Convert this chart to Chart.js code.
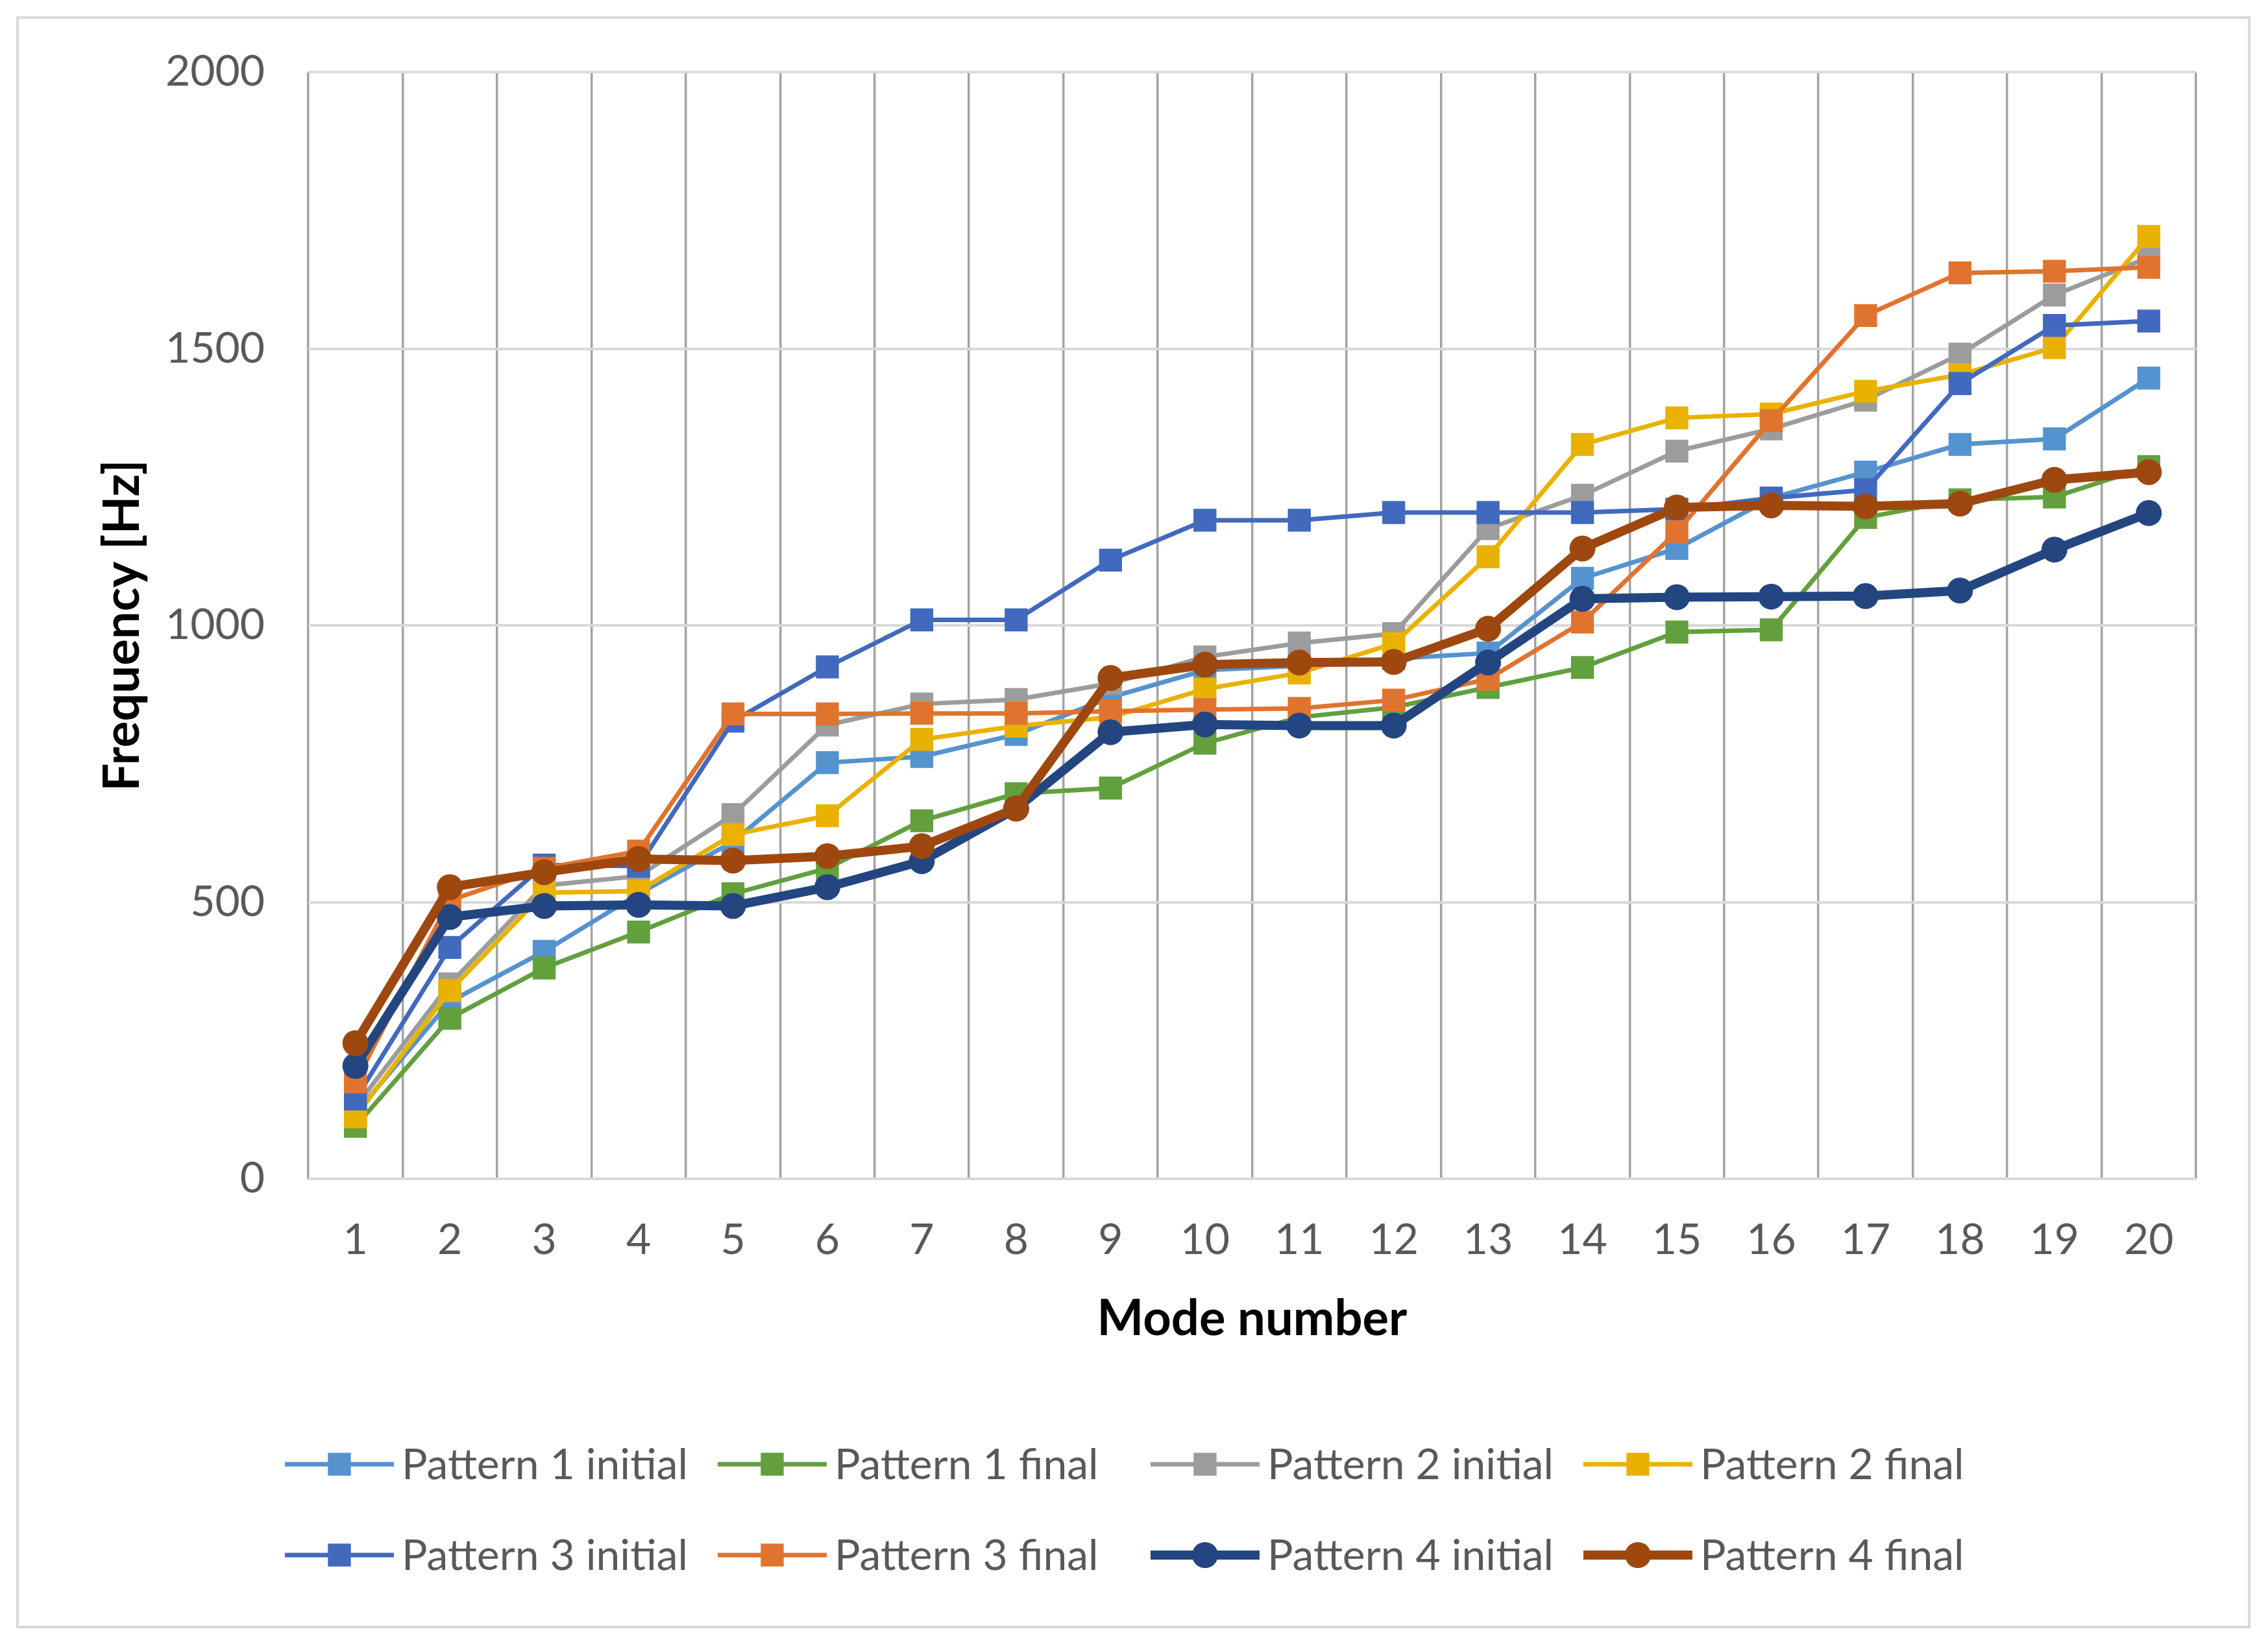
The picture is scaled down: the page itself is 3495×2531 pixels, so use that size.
<!DOCTYPE html>
<html>
<head>
<meta charset="utf-8">
<script src="https://cdn.jsdelivr.net/npm/chart.js@4.4.1/dist/chart.umd.min.js"></script>
<style>
html,body{margin:0;padding:0;background:#fff;}
#wrap{position:relative;width:3495px;height:2531px;}
canvas{display:block;}
</style>
</head>
<body>
<div id="wrap"><canvas id="c" width="3495" height="2531" style="width:3495px;height:2531px"></canvas></div>
<script>
const modes = ['1','2','3','4','5','6','7','8','9','10','11','12','13','14','15','16','17','18','19','20'];
const yTicks = [0, 500, 1000, 1500, 2000];
const seriesNames = ['Pattern 1 initial','Pattern 1 final','Pattern 2 initial','Pattern 2 final','Pattern 3 initial','Pattern 3 final','Pattern 4 initial','Pattern 4 final'];

const pattern1Initial = [118, 320, 411, 515, 609, 752, 763, 803, 870, 919, 927, 940, 950, 1085, 1139, 1230, 1277, 1327, 1337, 1447];
const pattern1Final   = [95, 290, 381, 446, 515, 561, 647, 696, 706, 787, 834, 852, 888, 924, 988, 992, 1195, 1227, 1232, 1287];
const pattern2Initial = [130, 352, 530, 547, 658, 820, 858, 866, 895, 943, 968, 985, 1175, 1235, 1315, 1355, 1407, 1490, 1597, 1665];
const pattern2Final   = [112, 340, 517, 520, 622, 656, 794, 818, 834, 885, 914, 967, 1124, 1327, 1375, 1382, 1423, 1453, 1502, 1703];
const pattern3Initial = [144, 418, 567, 565, 827, 925, 1010, 1010, 1118, 1190, 1190, 1204, 1204, 1204, 1210, 1230, 1245, 1437, 1542, 1550];
const pattern3Final   = [175, 503, 561, 592, 840, 840, 841, 841, 845, 848, 850, 865, 903, 1006, 1169, 1370, 1560, 1637, 1640, 1647];
const pattern4Initial = [204, 473, 493, 495, 493, 527, 574, 669, 807, 821, 819, 819, 933, 1048, 1051, 1052, 1053, 1063, 1137, 1203];
const pattern4Final   = [245, 527, 554, 578, 575, 583, 601, 669, 905, 929, 933, 934, 994, 1139, 1213, 1217, 1215, 1220, 1263, 1277];

const allSeries = [pattern1Initial, pattern1Final, pattern2Initial, pattern2Final, pattern3Initial, pattern3Final, pattern4Initial, pattern4Final];
const colors = ['#5593CF','#62A03E','#9C9C9C','#E9B200','#4169BD','#E0742F','#234681','#9E4810'];
const styles = ['rect','rect','rect','rect','rect','rect','circle','circle'];

const datasets = allSeries.map((d, i) => {
  const thick = i >= 6;
  return {
    label: seriesNames[i],
    data: d,
    borderColor: colors[i],
    backgroundColor: colors[i],
    borderWidth: thick ? 14 : 7,
    pointStyle: styles[i],
    pointRadius: thick ? 20 : 25,
    pointBorderWidth: 0,
    pointBackgroundColor: colors[i],
    pointBorderColor: colors[i],
    tension: 0,
    order: 8 - i
  };
});

const TICK_FONT = 'Lato';
const legendPlugin = {
  id: 'excelLegend',
  afterDraw(chart) {
    const ctx = chart.ctx;
    const cols = [439, 1106, 1773, 2440];
    const rows = [2257, 2397];
    ctx.save();
    chart.data.datasets.forEach((ds, i) => {
      const x0 = cols[i % 4];
      const y = rows[Math.floor(i / 4)];
      const len = 168;
      ctx.strokeStyle = ds.borderColor;
      ctx.lineWidth = ds.borderWidth;
      ctx.beginPath();
      ctx.moveTo(x0, y);
      ctx.lineTo(x0 + len, y);
      ctx.stroke();
      ctx.fillStyle = ds.backgroundColor;
      const cx = x0 + len / 2;
      if (ds.pointStyle === 'circle') {
        ctx.beginPath();
        ctx.arc(cx, y, ds.pointRadius, 0, Math.PI * 2);
        ctx.fill();
      } else {
        const s = ds.pointRadius * Math.SQRT1_2;
        ctx.fillRect(cx - s, y - s, 2 * s, 2 * s);
      }
      ctx.fillStyle = '#595959';
      ctx.font = '66px ' + TICK_FONT;
      ctx.textAlign = 'left';
      ctx.textBaseline = 'middle';
      ctx.fillText(ds.label, x0 + 180, y + 2);
    });
    ctx.restore();
  }
};

const framePlugin = {
  id: 'frame',
  beforeDraw(chart) {
    const ctx = chart.ctx;
    ctx.save();
    ctx.fillStyle = '#ffffff';
    ctx.fillRect(0, 0, chart.width, chart.height);
    ctx.strokeStyle = '#D9D9D9';
    ctx.lineWidth = 4;
    ctx.strokeRect(27, 27, 3439, 2481);
    ctx.restore();
  }
};

new Chart(document.getElementById('c'), {
  type: 'line',
  data: { labels: modes, datasets: datasets },
  options: {
    responsive: false,
    devicePixelRatio: 1,
    animation: false,
    layout: { padding: { left: 100, top: 111, right: 111, bottom: 414 } },
    plugins: {
      legend: { display: false },
      tooltip: { enabled: false }
    },
    scales: {
      x: {
        type: 'category',
        offset: true,
        afterFit(scale) { scale.height = 300; },
        grid: { display: true, offset: true, color: '#A3A3A3', lineWidth: 3.5, drawTicks: false },
        border: { display: false },
        ticks: { color: '#595959', font: { family: TICK_FONT, size: 66 }, padding: 55, maxRotation: 0, autoSkip: false },
        title: { display: true, text: 'Mode number', color: '#000000', font: { family: TICK_FONT, size: 76, weight: 'bold' }, padding: { top: 0, bottom: 38 } }
      },
      y: {
        min: 0,
        max: 2000,
        afterFit(scale) { scale.width = 375; },
        afterBuildTicks(scale) { scale.ticks = yTicks.map(v => ({ value: v })); },
        grid: { color: '#D9D9D9', lineWidth: 4, drawTicks: false },
        border: { display: false },
        ticks: { color: '#595959', font: { family: TICK_FONT, size: 66 }, padding: 67, callback: (v) => String(v) },
        title: { display: true, text: 'Frequency [Hz]', color: '#000000', font: { family: TICK_FONT, size: 76, weight: 'bold' }, padding: { top: 44, bottom: 0 } }
      }
    }
  },
  plugins: [framePlugin, legendPlugin]
});
</script>
</body>
</html>
